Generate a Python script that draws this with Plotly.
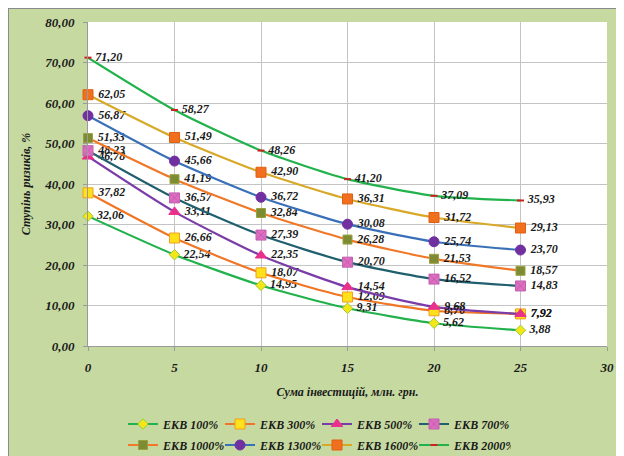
import plotly.graph_objects as go

x_vals = [0, 5, 10, 15, 20, 25]
series_names = ["ЕКВ 100%", "ЕКВ 300%", "ЕКВ 500%", "ЕКВ 700%",
                "ЕКВ 1000%", "ЕКВ 1300%", "ЕКВ 1600%", "ЕКВ 2000%"]
ekv100 = [32.06, 22.54, 14.95, 9.31, 5.62, 3.88]
ekv300 = [37.82, 26.66, 18.07, 12.09, 8.70, 7.92]
ekv500 = [46.78, 33.11, 22.35, 14.54, 9.68, 7.92]
ekv700 = [48.23, 36.57, 27.39, 20.70, 16.52, 14.83]
ekv1000 = [51.33, 41.19, 32.84, 26.28, 21.53, 18.57]
ekv1300 = [56.87, 45.66, 36.72, 30.08, 25.74, 23.70]
ekv1600 = [62.05, 51.49, 42.90, 36.31, 31.72, 29.13]
ekv2000 = [71.20, 58.27, 48.26, 41.20, 37.09, 35.93]
y_ticks = [0, 10, 20, 30, 40, 50, 60, 70, 80]
x_ticks = [0, 5, 10, 15, 20, 25, 30]

all_series = [ekv100, ekv300, ekv500, ekv700, ekv1000, ekv1300, ekv1600, ekv2000]
styles = [
    dict(line="#22b24c", marker=dict(symbol="diamond", size=8, color="#f5e61a", line=dict(color="#9acd32", width=1))),
    dict(line="#f07525", marker=dict(symbol="square", size=10, color="#ffe01a", line=dict(color="#f0a020", width=1))),
    dict(line="#7a3ca8", marker=dict(symbol="triangle-up", size=10, color="#e8308c", line=dict(color="#e8308c", width=1))),
    dict(line="#1f5f6e", marker=dict(symbol="square-x", size=10, color="#e06cc0", line=dict(color="#c060b0", width=1))),
    dict(line="#f07828", marker=dict(symbol="square", size=9, color="#7d8c32", line=dict(color="#9aa040", width=1))),
    dict(line="#3a70b8", marker=dict(symbol="circle", size=10, color="#7030a0", line=dict(color="#7030a0", width=1))),
    dict(line="#d8a828", marker=dict(symbol="square", size=10, color="#f07020", line=dict(color="#e06010", width=1))),
    dict(line="#22b24c", marker=dict(symbol="line-ew", size=5, color="#d02020", line=dict(color="#d02020", width=2))),
]

serif = "Liberation Serif"
lab_font = dict(family=serif, size=12, color="#1a1a1a", weight="bold", style="italic")

fig = go.Figure()
for i, (name, vals, st) in enumerate(zip(series_names, all_series, styles)):
    fig.add_trace(go.Scatter(
        x=x_vals, y=vals, name=name, mode="lines+markers+text",
        line=dict(color=st["line"], width=2.2, shape="spline", smoothing=0.6),
        marker=st["marker"],
        text=["\u00a0" + f"{v:.2f}".replace(".", ",") for v in vals],
        textposition="middle right",
        textfont=lab_font,
        cliponaxis=False,
        legend="legend" if i < 4 else "legend2",
    ))

# page is offset by 8px body margin
W, H = 616, 448
L, R, T, B = 80, 17, 14, 110
pw, ph = W - L - R, H - T - B

def px(xf):
    return (xf - L) / pw

def py(yf):
    return (H - B - yf) / ph

shapes = [
    dict(type="line", xref="paper", yref="paper", x0=px(0), x1=px(0), y0=py(H + 5), y1=py(0),
         line=dict(color="#8a8a8a", width=2)),
    dict(type="line", xref="paper", yref="paper", x0=px(0), x1=px(W + 5), y0=py(0), y1=py(0),
         line=dict(color="#8a8a8a", width=2)),
]

axis_font = dict(family=serif, size=13, color="#1a1a1a", weight="bold", style="italic")
title_font = dict(family=serif, size=12, color="#1a1a1a", weight="bold", style="italic")
leg_font = dict(family=serif, size=12, color="#1a1a1a", weight="bold", style="italic")

fig.update_layout(
    width=W, height=H,
    margin=dict(l=L, r=R, t=T, b=B, autoexpand=False),
    paper_bgcolor="#c6d9a0",
    plot_bgcolor="white",
    separators=", ",
    shapes=shapes,
    showlegend=True,
    legend=dict(orientation="h", xref="container", yref="container",
                x=115 / W, xanchor="left", y=1 - 416 / H, yanchor="middle",
                font=leg_font, entrywidth=52, entrywidthmode="pixels", itemwidth=30,
                bgcolor="rgba(0,0,0,0)"),
    legend2=dict(orientation="h", xref="container", yref="container",
                 x=115 / W, xanchor="left", y=1 - 437 / H, yanchor="middle",
                 font=leg_font, entrywidth=52, entrywidthmode="pixels", itemwidth=30,
                 bgcolor="rgba(0,0,0,0)"),
    xaxis=dict(range=[0, 30], tickvals=x_ticks, showgrid=True, gridcolor="#c4c4c4", gridwidth=1.2,
               showline=True, linecolor="#9a9a9a", ticks="outside", ticklen=4, tickcolor="#9a9a9a",
               tickfont=axis_font, zeroline=False, ticklabelstandoff=5, automargin=False,
               title=dict(text="Сума інвестицій, млн. грн.", font=title_font, standoff=14)),
    yaxis=dict(range=[0, 80], tickvals=y_ticks, tickformat=".2f", showgrid=True, gridcolor="#c4c4c4", gridwidth=1.2,
               showline=True, linecolor="#9a9a9a", ticks="outside", ticklen=4, tickcolor="#9a9a9a",
               tickfont=axis_font, zeroline=False, ticklabelstandoff=6, automargin=False,
               title=dict(text="Ступінь ризиків, %", font=title_font, standoff=10)),
)

fig.write_html("out.html")
